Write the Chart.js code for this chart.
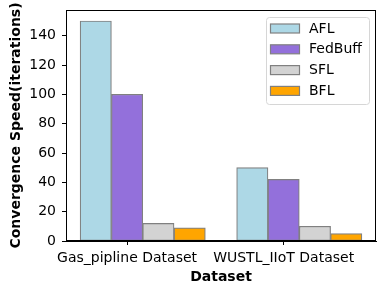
<!DOCTYPE html>
<html>
<head>
<meta charset="utf-8">
<script src="https://cdn.jsdelivr.net/npm/chart.js@4.4.0/dist/chart.umd.min.js"></script>
<style>
    html, body { margin: 0; padding: 0; background: #fff; }
    #wrap { width: 385px; height: 281px; position: relative; }
</style>
</head>
<body>
<div id="wrap"><canvas id="chart"></canvas></div>
<script>
// data
const categories = ['Gas_pipline Dataset', 'WUSTL_IIoT Dataset'];
const methods = ['AFL', 'FedBuff', 'SFL', 'BFL'];
const aflValues = [150, 50];
const fedBuffValues = [100, 42];
const sflValues = [12, 10];
const bflValues = [9, 5];
const yTicks = [0, 20, 40, 60, 80, 100, 120, 140];

const series = [aflValues, fedBuffValues, sflValues, bflValues];
const colors = ['#add8e6', '#9370db', '#d3d3d3', '#ffa500'];
const barWidth = 0.2;
const FONT = 'DejaVu Sans';
const FS = 14;

// bars sit at x + (i - 1) * width, like the matplotlib offsets
const datasets = methods.map((name, i) => ({
    label: name,
    data: series[i].map((v, j) => ({x: j + (i - 1) * barWidth, y: v})),
    backgroundColor: colors[i],
    borderColor: '#808080',
    borderWidth: 1.2,
    borderSkipped: false,
    grouped: false,
    categoryPercentage: 1,
    barPercentage: 1
}));

// frame + legend like matplotlib
const framePlugin = {
    id: 'frame',
    afterDraw(chart) {
        const {ctx, chartArea: a} = chart;
        ctx.save();
        ctx.strokeStyle = '#000';
        ctx.lineWidth = 1;
        ctx.strokeRect(Math.round(a.left) + 0.5, Math.round(a.top) + 0.5,
            Math.round(a.right - a.left) - 1, Math.round(a.bottom - a.top) - 1);

        // legend
        const bx = 266.5, by = 17.5, bw = 103, bh = 87;
        ctx.fillStyle = 'rgba(255,255,255,0.8)';
        ctx.strokeStyle = '#d6d6d6';
        ctx.beginPath();
        ctx.roundRect(bx, by, bw, bh, 3);
        ctx.fill();
        ctx.stroke();
        ctx.font = FS + 'px "' + FONT + '"';
        ctx.textBaseline = 'middle';
        methods.forEach((name, i) => {
            const cy = 28.5 + i * 20.8;
            ctx.fillStyle = colors[i];
            ctx.fillRect(270.5, cy - 4.5, 29, 9);
            ctx.strokeStyle = '#808080';
            ctx.lineWidth = 1.2;
            ctx.strokeRect(270.5, cy - 4.5, 29, 9);
            ctx.fillStyle = '#000';
            ctx.fillText(name, 309, cy + 0.5);
        });
        ctx.restore();
    }
};

new Chart(document.getElementById('chart'), {
    type: 'bar',
    data: {datasets},
    options: {
        responsive: true,
        maintainAspectRatio: false,
        animation: false,
        layout: {padding: {top: 10, right: 9, left: 0, bottom: 0}},
        plugins: {legend: {display: false}, tooltip: {enabled: false}},
        scales: {
            x: {
                type: 'linear',
                offset: false,
                min: -0.39,
                max: 1.59,
                afterBuildTicks: s => { s.ticks = categories.map((c, i) => ({value: i})); },
                afterFit: s => { s.height = 40; s.paddingLeft = 0; s.paddingRight = 0; },
                ticks: {
                    callback: v => categories[v],
                    color: '#000',
                    font: {family: FONT, size: FS},
                    padding: 5,
                    maxRotation: 0,
                    autoSkip: false
                },
                grid: {offset: false, drawOnChartArea: false, drawTicks: true, tickLength: 4, color: '#000'},
                border: {display: true, color: '#000'},
                title: {
                    display: true,
                    text: 'Dataset',
                    color: '#000',
                    font: {family: FONT, size: FS, weight: 'bold'},
                    padding: {top: 0, bottom: -5}
                }
            },
            y: {
                min: 0,
                max: 157.5,
                afterBuildTicks: s => { s.ticks = yTicks.map(v => ({value: v})); },
                afterFit: s => { s.width = 66; s.paddingTop = 0; s.paddingBottom = 0; },
                ticks: {
                    color: '#000',
                    font: {family: FONT, size: FS},
                    padding: 6
                },
                grid: {drawOnChartArea: false, drawTicks: true, tickLength: 4, color: '#000'},
                border: {display: true, color: '#000'},
                title: {
                    display: true,
                    text: 'Convergence Speed(iterations)',
                    color: '#000',
                    font: {family: FONT, size: FS, weight: 'bold'},
                    padding: {top: 8, bottom: 0}
                }
            }
        }
    },
    plugins: [framePlugin]
});
</script>
</body>
</html>
